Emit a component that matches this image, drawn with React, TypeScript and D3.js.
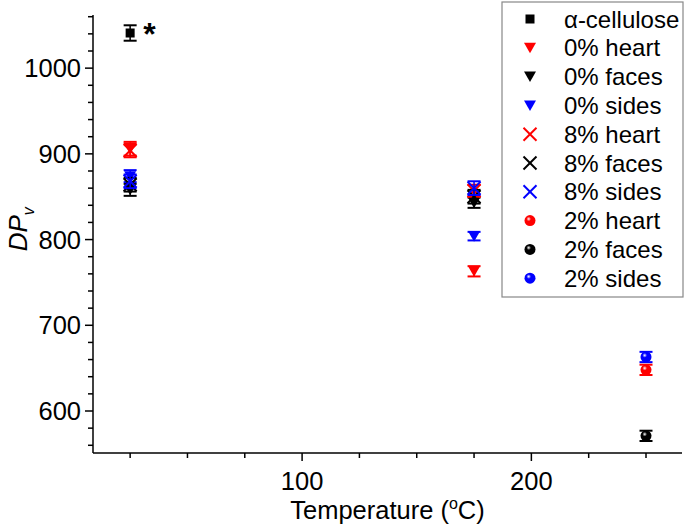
import React from "react";
import * as d3 from "d3";

const seriesNames = ["α-cellulose", "0% heart", "0% faces", "0% sides", "8% heart", "8% faces", "8% sides", "2% heart", "2% faces", "2% sides"];
const seriesColors = ["#000000", "#ff0000", "#000000", "#0000ff", "#ff0000", "#000000", "#0000ff", "#ff0000", "#000000", "#0000ff"];
const seriesShapes = ["square", "tri", "tri", "tri", "cross", "cross", "cross", "ball", "ball", "ball"];
const seriesTemps = [[25], [25, 175], [25, 175], [25, 175], [25, 175], [25, 175], [25, 175], [250], [250], [250]];
const seriesValues = [[1041], [906, 763], [858, 843], [874, 804], [904, 857], [864, 850], [868, 860], [648], [571], [663]];
const seriesErrors = [[9], [8, 6], [7, 6], [7, 5], [8, 7], [8, 8], [8, 8], [6], [6], [6]];

const xMajorTicks = [100, 200];
const yMajorTicks = [600, 700, 800, 900, 1000];

const W = 685, H = 528;
const FONT = "Liberation Sans, Arial, sans-serif";

function Marker({ shape, color, x, y, id }: { shape: string; color: string; x: number; y: number; id: string }) {
  if (shape === "square") return <rect x={x - 4.5} y={y - 4.5} width={9} height={9} fill={color} />;
  if (shape === "tri") {
    const p = d3.path();
    p.moveTo(x - 6, y - 5); p.lineTo(x + 6, y - 5); p.lineTo(x, y + 5.5); p.closePath();
    return <path d={p.toString()} fill={color} />;
  }
  if (shape === "cross") {
    const s = 6.5;
    return <g stroke={color} strokeWidth={2}><line x1={x - s} y1={y - s} x2={x + s} y2={y + s} /><line x1={x - s} y1={y + s} x2={x + s} y2={y - s} /></g>;
  }
  return <circle cx={x} cy={y} r={5.5} fill={`url(#${id})`} />;
}

export default function App() {
  const x = d3.scaleLinear().domain([8.8, 265.7]).range([93, 682]);
  const y = d3.scaleLinear().domain([551, 1062]).range([453, 15]);
  const xMinor = d3.range(25, 265, 25);
  const yMinor = d3.range(560, 1062, 20);
  const x0 = x.range()[0], yb = y.range()[0];

  return (
    <svg width={W} height={H} style={{ position: "absolute", left: 0, top: 0, background: "#fff" }} fontFamily={FONT}>
      <defs>
        {seriesColors.map((c, i) => (
          <radialGradient key={i} id={`g${i}`} cx="0.38" cy="0.35" r="0.7">
            <stop offset="0" stopColor="#ffffff" />
            <stop offset="0.3" stopColor={c} />
            <stop offset="1" stopColor={c} />
          </radialGradient>
        ))}
      </defs>
      <line x1={x0} y1={y.range()[1]} x2={x0} y2={yb} stroke="#000" strokeWidth={1.5} />
      <line x1={x0} y1={yb} x2={x.range()[1]} y2={yb} stroke="#000" strokeWidth={1.5} />
      {yMinor.map((v) => {
        const major = yMajorTicks.includes(v);
        return <line key={v} x1={x0} x2={x0 - (major ? 8 : 5)} y1={y(v)} y2={y(v)} stroke="#000" strokeWidth={1.5} />;
      })}
      {yMajorTicks.map((v) => (
        <text key={v} x={x0 - 12} y={y(v)} dy="0.36em" textAnchor="end" fontSize={25.5}>{v}</text>
      ))}
      {xMinor.map((v) => {
        const major = xMajorTicks.includes(v);
        return <line key={v} x1={x(v)} x2={x(v)} y1={yb} y2={yb + (major ? 8 : 5)} stroke="#000" strokeWidth={1.5} />;
      })}
      {xMajorTicks.map((v) => (
        <text key={v} x={x(v)} y={yb + 37} textAnchor="middle" fontSize={25.5}>{v}</text>
      ))}
      <text x={(x0 + x.range()[1]) / 2} y={yb + 66} textAnchor="middle" fontSize={25.5}>
        Temperature (<tspan fontSize={16} dy={-10}>o</tspan><tspan dy={10}>C)</tspan>
      </text>
      <text transform={`translate(27,${y(812)}) rotate(-90)`} textAnchor="middle" fontSize={26} fontStyle="italic">
        DP<tspan fontSize={16} dy={7}>v</tspan>
      </text>
      {seriesNames.map((name, i) => (
        <g key={name}>
          {seriesTemps[i].map((t, j) => {
            const cx = x(t), v = seriesValues[i][j], e = seriesErrors[i][j];
            const yt = y(v + e), ybt = y(v - e);
            return (
              <g key={j}>
                <g stroke={seriesColors[i]} strokeWidth={2}>
                  <line x1={cx} x2={cx} y1={yt} y2={ybt} strokeWidth={1.5} />
                  <line x1={cx - 6.5} x2={cx + 6.5} y1={yt} y2={yt} />
                  <line x1={cx - 6.5} x2={cx + 6.5} y1={ybt} y2={ybt} />
                </g>
                <Marker shape={seriesShapes[i]} color={seriesColors[i]} x={cx} y={y(v)} id={`g${i}`} />
              </g>
            );
          })}
        </g>
      ))}
      <text x={x(25) + 13} y={45} fontSize={32} fontWeight="bold">*</text>
      <rect x={502} y={2} width={181} height={295} fill="#fff" stroke="#888" strokeWidth={1.2} />
      {seriesNames.map((name, i) => {
        const ly = 19 + i * 28.8;
        return (
          <g key={name}>
            <Marker shape={seriesShapes[i]} color={seriesColors[i]} x={530} y={ly} id={`g${i}`} />
            <text x={564} y={ly} dy="0.36em" fontSize={24}>{name}</text>
          </g>
        );
      })}
    </svg>
  );
}
